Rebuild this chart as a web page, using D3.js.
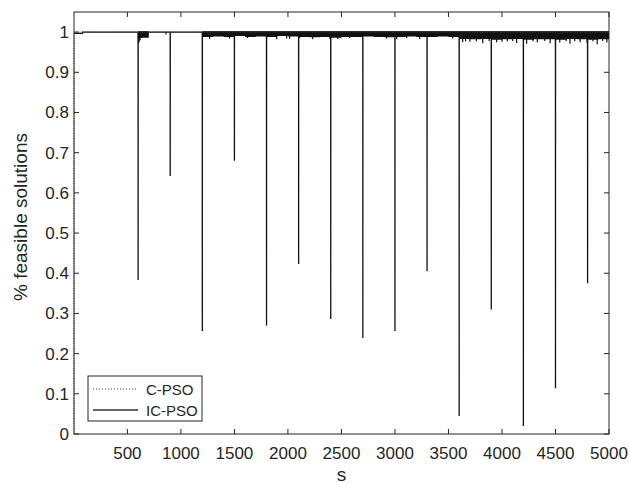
<!DOCTYPE html>
<html>
<head>
<meta charset="utf-8">
<script src="https://cdn.jsdelivr.net/npm/d3@7"></script>
<style>
  body { margin: 0; background: #fff; }
  text { font-family: "Liberation Sans", Arial, sans-serif; fill: #262626; }
</style>
</head>
<body>
<div id="chart"></div>
<script>
// tick labels
const xTicks = [500, 1000, 1500, 2000, 2500, 3000, 3500, 4000, 4500, 5000];
const yTicks = [0, 0.1, 0.2, 0.3, 0.4, 0.5, 0.6, 0.7, 0.8, 0.9, 1];

// IC-PSO drops (generation s, fraction feasible)
const spikeS = [600, 900, 1200, 1500, 1800, 2100, 2400, 2700, 3000, 3300, 3600, 3900, 4200, 4500, 4800];
const spikeV = [0.383, 0.642, 0.256, 0.68, 0.27, 0.423, 0.286, 0.239, 0.256, 0.405, 0.045, 0.31, 0.02, 0.114, 0.375];

// lower edge of the IC-PSO noise band, one value per 100 s
const bandLow = [
  1, 1, 1, 1, 1, 1, 0.986, 1, 1, 1,
  1, 1, 0.988, 0.989, 0.988, 0.990, 0.988, 0.989, 0.988, 0.990,
  0.989, 0.988, 0.987, 0.988, 0.986, 0.988, 0.988, 0.989, 0.988, 0.987,
  0.988, 0.989, 0.988, 0.988, 0.989, 0.988, 0.983, 0.982, 0.983, 0.981,
  0.982, 0.983, 0.981, 0.982, 0.982, 0.981, 0.983, 0.982, 0.981, 0.982
];

// single downward flickers inside the band
const dipS = [604, 610, 618, 630, 655, 690, 860,
  1268, 1455, 1623, 1800, 1895, 1988, 2016, 2110, 2232, 2390, 2465, 2577, 2923, 3017, 3110, 3232, 3540,
  3633, 3660, 3700, 3760, 3820, 3880, 3950, 4000, 4050, 4100, 4137, 4230, 4290, 4330, 4400, 4450,
  4500, 4540, 4600, 4635, 4680, 4730, 4795, 4850, 4890, 4940, 4980];
const dipV = [0.972, 0.976, 0.98, 0.985, 0.99, 0.992, 0.994,
  0.983, 0.984, 0.985, 0.983, 0.982, 0.984, 0.983, 0.985, 0.982, 0.984, 0.983, 0.985, 0.984, 0.982, 0.985, 0.983, 0.984,
  0.975, 0.977, 0.976, 0.977, 0.972, 0.978, 0.975, 0.976, 0.977, 0.978, 0.973, 0.971, 0.977, 0.975, 0.978, 0.972,
  0.976, 0.974, 0.978, 0.971, 0.977, 0.975, 0.973, 0.977, 0.970, 0.978, 0.974];

// C-PSO: starts infeasible, then always feasible
const cS = [1, 2, 5000];
const cV = [0, 1, 1];

const width = 630, height = 484;
const margin = { top: 12, right: 21, bottom: 50, left: 74 };
const axisColor = '#262626';

const svg = d3.select('#chart').append('svg')
  .attr('width', width)
  .attr('height', height);

const x = d3.scaleLinear()
  .domain([1, 5000])
  .range([margin.left, width - margin.right]);

const y = d3.scaleLinear()
  .domain([0, 1.05])
  .range([height - margin.bottom, margin.top]);

// IC-PSO main trace
let icPts = [[1, 0.997], [80, 0.997], [81, 1]];
spikeS.forEach((s, i) => {
  icPts.push([s - 0.5, 1], [s, spikeV[i]], [s + 0.5, 1]);
});
icPts.push([5000, 1]);

const line = d3.line()
  .x((d) => x(d[0]))
  .y((d) => y(d[1]));

// noise band
const band = d3.area()
  .x((d, i) => x(i * 100))
  .y0((d) => y(d))
  .y1((d) => d < 1 ? y(1.002) : y(1))
  .curve(d3.curveStepAfter);

svg.append('path')
  .datum(bandLow.concat([bandLow[bandLow.length - 1]]))
  .attr('d', band)
  .attr('fill', '#111');

svg.selectAll('.dip').data(dipS)
  .join('line')
  .attr('class', 'dip')
  .attr('x1', (d) => x(d))
  .attr('x2', (d) => x(d))
  .attr('y1', y(1))
  .attr('y2', (d, i) => y(dipV[i]))
  .attr('stroke', '#111')
  .attr('stroke-width', 1.2);

svg.append('path')
  .datum(icPts)
  .attr('d', line)
  .attr('fill', 'none')
  .attr('stroke', '#111')
  .attr('stroke-width', 1.3);

svg.append('path')
  .datum(cS.map((s, i) => [s, cV[i]]))
  .attr('d', line)
  .attr('fill', 'none')
  .attr('stroke', '#444')
  .attr('stroke-width', 1)
  .attr('stroke-dasharray', '1,1.5');

// axes box
const x0 = margin.left, x1 = width - margin.right;
const y0 = height - margin.bottom, y1 = margin.top;

svg.append('rect')
  .attr('x', x0)
  .attr('y', y1)
  .attr('width', x1 - x0)
  .attr('height', y0 - y1)
  .attr('fill', 'none')
  .attr('stroke', axisColor)
  .attr('stroke-width', 1);

const tl = 5;

svg.selectAll('.xtb').data(xTicks)
  .join('line')
  .attr('x1', (d) => x(d)).attr('x2', (d) => x(d))
  .attr('y1', y0).attr('y2', y0 - tl)
  .attr('stroke', axisColor);

svg.selectAll('.xtt').data(xTicks)
  .join('line')
  .attr('class', 'xtt')
  .attr('x1', (d) => x(d)).attr('x2', (d) => x(d))
  .attr('y1', y1).attr('y2', y1 + tl)
  .attr('stroke', axisColor);

svg.selectAll('.ytl').data(yTicks)
  .join('line')
  .attr('class', 'ytl')
  .attr('x1', x0).attr('x2', x0 + tl)
  .attr('y1', (d) => y(d)).attr('y2', (d) => y(d))
  .attr('stroke', axisColor);

svg.selectAll('.ytr').data(yTicks)
  .join('line')
  .attr('class', 'ytr')
  .attr('x1', x1).attr('x2', x1 - tl)
  .attr('y1', (d) => y(d)).attr('y2', (d) => y(d))
  .attr('stroke', axisColor);

svg.selectAll('.xlab').data(xTicks)
  .join('text')
  .attr('class', 'xlab')
  .attr('x', (d) => x(d))
  .attr('y', y0 + 25)
  .attr('text-anchor', 'middle')
  .attr('font-size', 17)
  .text((d) => d);

svg.selectAll('.ylab').data(yTicks)
  .join('text')
  .attr('class', 'ylab')
  .attr('x', x0 - 5)
  .attr('y', (d) => y(d))
  .attr('dy', '0.35em')
  .attr('text-anchor', 'end')
  .attr('font-size', 17)
  .text((d) => d3.format('~g')(d));

svg.append('text')
  .attr('x', (x0 + x1) / 2)
  .attr('y', 481)
  .attr('text-anchor', 'middle')
  .attr('font-size', 19)
  .text('s');

svg.append('text')
  .attr('transform', 'translate(27,' + ((y0 + y1) / 2 - 6) + ') rotate(-90)')
  .attr('text-anchor', 'middle')
  .attr('font-size', 19)
  .text('% feasible solutions');

// legend
const legend = svg.append('g').attr('transform', 'translate(88,376)');

legend.append('rect')
  .attr('width', 114)
  .attr('height', 45)
  .attr('fill', '#fff')
  .attr('stroke', axisColor);

legend.append('line')
  .attr('x1', 5).attr('x2', 50)
  .attr('y1', 13).attr('y2', 13)
  .attr('stroke', '#444')
  .attr('stroke-dasharray', '1,2');

legend.append('line')
  .attr('x1', 5).attr('x2', 50)
  .attr('y1', 34).attr('y2', 34)
  .attr('stroke', '#333')
  .attr('stroke-width', 1.3);

legend.selectAll('.ltext').data(['C-PSO', 'IC-PSO'])
  .join('text')
  .attr('class', 'ltext')
  .attr('x', 58)
  .attr('y', (d, i) => 14 + i * 21)
  .attr('dy', '0.35em')
  .attr('font-size', 15)
  .text((d) => d);
</script>
</body>
</html>
